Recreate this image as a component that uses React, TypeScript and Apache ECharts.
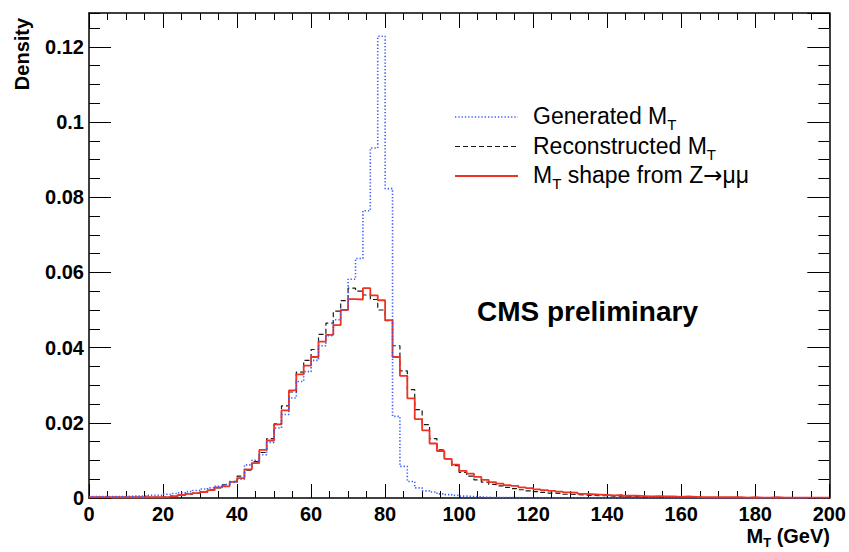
import React, { useEffect, useRef } from "react";
import * as echarts from "echarts";

// ---- data (bin width 2 GeV, 100 bins from 0 to 200 GeV) ----
const BIN_WIDTH = 2;
const X_MIN = 0;
const X_MAX = 200;
const Y_MAX = 0.129;

const xTickValues = [0, 20, 40, 60, 80, 100, 120, 140, 160, 180, 200];
const yTickLabels = ["0", "0.02", "0.04", "0.06", "0.08", "0.1", "0.12"];

const generatedMT = [
  0.0004, 0.0004, 0.0004, 0.0004, 0.0004, 0.0005, 0.0005, 0.0005, 0.0007, 0.0007,
  0.0010, 0.0012, 0.0014, 0.0017, 0.0020, 0.0024, 0.0027, 0.0031, 0.0036, 0.0042,
  0.0050, 0.0088, 0.0100, 0.0115, 0.0148, 0.0186, 0.0222, 0.0266, 0.0310, 0.0336,
  0.0366, 0.0405, 0.0432, 0.0474, 0.0500, 0.0582, 0.0637, 0.0764, 0.0931, 0.1228,
  0.0823, 0.0217, 0.0084, 0.0044, 0.0027, 0.0019, 0.0016, 0.0011, 0.0009, 0.0007,
  0.0005, 0.0004, 0.0003, 0.0002, 0.0001, 0.0001, 0.0001, 0.0001, 0.0000, 0.0000,
  0.0000, 0.0000, 0.0000, 0.0000, 0.0000, 0.0000, 0.0000, 0.0000, 0.0000, 0.0000,
  0.0000, 0.0000, 0.0000, 0.0000, 0.0000, 0.0000, 0.0000, 0.0000, 0.0000, 0.0000,
  0.0000, 0.0000, 0.0000, 0.0000, 0.0000, 0.0000, 0.0000, 0.0000, 0.0000, 0.0000,
  0.0000, 0.0000, 0.0000, 0.0000, 0.0000, 0.0000, 0.0000, 0.0000, 0.0000, 0.0000,
];

const reconstructedMT = [
  0.0002, 0.0002, 0.0002, 0.0002, 0.0002, 0.0002, 0.0002, 0.0002, 0.0002, 0.0002,
  0.0003, 0.0005, 0.0007, 0.0010, 0.0013, 0.0016, 0.0022, 0.0027, 0.0035, 0.0044,
  0.0058, 0.0074, 0.0097, 0.0121, 0.0158, 0.0197, 0.0245, 0.0282, 0.0335, 0.0366,
  0.0395, 0.0435, 0.0465, 0.0497, 0.0525, 0.0558, 0.0550, 0.0540, 0.0528, 0.0500,
  0.0472, 0.0405, 0.0338, 0.0288, 0.0235, 0.0195, 0.0158, 0.0128, 0.0104, 0.0086,
  0.0068, 0.0058, 0.0048, 0.0042, 0.0036, 0.0032, 0.0028, 0.0025, 0.0022, 0.0019,
  0.0017, 0.0015, 0.0013, 0.0012, 0.0010, 0.0009, 0.0008, 0.0007, 0.0006, 0.0006,
  0.0005, 0.0005, 0.0004, 0.0004, 0.0003, 0.0003, 0.0003, 0.0002, 0.0002, 0.0002,
  0.0002, 0.0002, 0.0001, 0.0001, 0.0001, 0.0001, 0.0001, 0.0001, 0.0001, 0.0001,
  0.0001, 0.0001, 0.0001, 0.0001, 0.0001, 0.0001, 0.0001, 0.0001, 0.0001, 0.0001,
];

const zmumuShape = [
  0.0002, 0.0002, 0.0002, 0.0002, 0.0002, 0.0002, 0.0002, 0.0002, 0.0002, 0.0002,
  0.0003, 0.0005, 0.0008, 0.0011, 0.0013, 0.0016, 0.0021, 0.0028, 0.0031, 0.0043,
  0.0053, 0.0076, 0.0093, 0.0128, 0.0153, 0.0196, 0.0233, 0.0286, 0.0329, 0.0352,
  0.0375, 0.0416, 0.0434, 0.0460, 0.0500, 0.0529, 0.0528, 0.0558, 0.0539, 0.0526,
  0.0473, 0.0375, 0.0325, 0.0265, 0.0210, 0.0180, 0.0145, 0.0125, 0.0104, 0.0089,
  0.0072, 0.0065, 0.0056, 0.0048, 0.0042, 0.0038, 0.0034, 0.0032, 0.0028, 0.0026,
  0.0023, 0.0021, 0.0019, 0.0017, 0.0015, 0.0014, 0.0011, 0.0010, 0.0009, 0.0008,
  0.0007, 0.0008, 0.0006, 0.0006, 0.0005, 0.0004, 0.0005, 0.0004, 0.0004, 0.0003,
  0.0004, 0.0003, 0.0002, 0.0002, 0.0002, 0.0002, 0.0002, 0.0002, 0.0001, 0.0002,
  0.0001, 0.0001, 0.0002, 0.0001, 0.0001, 0.0001, 0.0001, 0.0001, 0.0001, 0.0001,
];

const seriesNames = ["Generated M_T", "Reconstructed M_T", "M_T shape from Z→μμ"];
const legendRich = [
  "{n|Generated M}{s|T}",
  "{n|Reconstructed M}{s|T}",
  "{n|M}{s|T}{n| shape from Z}{a|→}{n|μμ}",
];

const FONT = '"Liberation Sans", Arial, Helvetica, sans-serif';
const BLUE = "#3b5bff";
const BLACK = "#1a1a1a";
const RED = "#ee3322";

const toSteps = (values: number[]) => {
  const pts: number[][] = values.map((v, i) => [X_MIN + i * BIN_WIDTH, v]);
  pts.push([X_MIN + values.length * BIN_WIDTH, values[values.length - 1]]);
  return pts;
};

const yLabelFormatter = (v: number) => {
  const r = v / 0.02;
  if (Math.abs(r - Math.round(r)) > 1e-6) return "";
  const s = String(+v.toFixed(2));
  return yTickLabels.includes(s) ? s : "";
};

export default function App() {
  const ref = useRef<HTMLDivElement>(null);

  useEffect(() => {
    if (!ref.current) return;
    const chart = echarts.init(ref.current, null, { renderer: "svg" });

    const axisLine = { show: true, onZero: false, lineStyle: { color: "#000", width: 1.5 } };
    const hiddenLine = { show: false, onZero: false };
    const noSplit = { show: false };
    const tickStyle = { color: "#000", width: 1 };

    const xBase = {
      type: "value",
      min: X_MIN,
      max: X_MAX,
      interval: 20,
      splitLine: noSplit,
      minorSplitLine: noSplit,
      axisLine,
    };

    const yBase = {
      type: "value",
      min: 0,
      max: Y_MAX,
      splitLine: noSplit,
      minorSplitLine: noSplit,
    };

    const legendRows = [117, 146.5, 176];
    const legendStyles = [
      { stroke: BLUE, lineWidth: 1.6, lineDash: [1.3, 2] },
      { stroke: BLACK, lineWidth: 1.2, lineDash: [5, 3] },
      { stroke: RED, lineWidth: 1.8 },
    ];

    const graphic: any[] = [];
    legendRows.forEach((y, i) => {
      graphic.push({
        type: "line",
        shape: { x1: 455, y1: y, x2: 518, y2: y },
        style: { ...legendStyles[i], fill: null },
      });
      graphic.push({
        type: "text",
        x: 533,
        y: y - 1,
        style: {
          text: legendRich[i],
          align: "left",
          textAlign: "left",
          verticalAlign: "middle",
          textVerticalAlign: "middle",
          rich: {
            n: { fontSize: 23, fontFamily: FONT, fill: "#000", lineHeight: 32 },
            s: { fontSize: 15, fontFamily: FONT, fill: "#000", lineHeight: 15, verticalAlign: "bottom" },
            a: { fontSize: 23, fontFamily: '"DejaVu Sans", sans-serif', fill: "#000", lineHeight: 32 },
          },
        },
      });
    });

    graphic.push({
      type: "text",
      x: 477,
      y: 311,
      style: {
        text: "CMS preliminary",
        font: `bold 28px ${FONT}`,
        fill: "#000",
        align: "left",
        textAlign: "left",
        verticalAlign: "middle",
        textVerticalAlign: "middle",
      },
    });

    graphic.push({
      type: "text",
      x: 22,
      y: 54,
      rotation: Math.PI / 2,
      style: {
        text: "Density",
        font: `bold 20px ${FONT}`,
        fill: "#000",
        align: "center",
        textAlign: "center",
        verticalAlign: "middle",
        textVerticalAlign: "middle",
      },
    });

    graphic.push({
      type: "text",
      x: 830,
      y: 536,
      style: {
        text: "{b|M}{bs|T}{b| (GeV)}",
        align: "right",
        textAlign: "right",
        verticalAlign: "middle",
        textVerticalAlign: "middle",
        rich: {
          b: { fontSize: 20, fontWeight: "bold", fontFamily: FONT, fill: "#000", lineHeight: 26 },
          bs: { fontSize: 13, fontWeight: "bold", fontFamily: FONT, fill: "#000", lineHeight: 13, verticalAlign: "bottom" },
        },
      },
    });

    chart.setOption({
      animation: false,
      backgroundColor: "#fff",
      grid: { left: 89, right: 17, top: 13, bottom: 54, containLabel: false },
      xAxis: [
        {
          ...xBase,
          position: "bottom",
          axisTick: { show: true, inside: true, length: 14, lineStyle: tickStyle },
          minorTick: { show: true, splitNumber: 4, length: 7, lineStyle: tickStyle },
          axisLabel: {
            show: true,
            margin: 6,
            color: "#000",
            fontSize: 20,
            fontWeight: "bold",
            fontFamily: FONT,
            formatter: (v: number) => (xTickValues.includes(v) ? String(v) : ""),
          },
        },
        {
          ...xBase,
          position: "top",
          axisTick: { show: true, inside: true, length: 15, lineStyle: tickStyle },
          minorTick: { show: true, splitNumber: 4, length: 7, lineStyle: tickStyle },
          axisLabel: { show: false },
        },
      ],
      yAxis: [
        {
          ...yBase,
          position: "left",
          interval: 0.02,
          axisLine,
          axisTick: { show: true, inside: true, length: 22, lineStyle: tickStyle },
          axisLabel: {
            show: true,
            margin: 5,
            color: "#000",
            fontSize: 20,
            fontWeight: "bold",
            fontFamily: FONT,
            showMaxLabel: false,
            formatter: yLabelFormatter,
          },
        },
        {
          ...yBase,
          position: "left",
          interval: 0.005,
          axisLine: hiddenLine,
          axisTick: { show: true, inside: true, length: 11, lineStyle: tickStyle },
          axisLabel: { show: false },
        },
        {
          ...yBase,
          position: "right",
          interval: 0.02,
          axisLine,
          axisTick: { show: true, inside: true, length: 22, lineStyle: tickStyle },
          axisLabel: { show: false },
        },
        {
          ...yBase,
          position: "right",
          interval: 0.005,
          axisLine: hiddenLine,
          axisTick: { show: true, inside: true, length: 11, lineStyle: tickStyle },
          axisLabel: { show: false },
        },
      ],
      series: [
        {
          name: seriesNames[1],
          type: "line",
          step: "end",
          xAxisIndex: 0,
          yAxisIndex: 0,
          showSymbol: false,
          symbol: "none",
          data: toSteps(reconstructedMT),
          lineStyle: { color: BLACK, width: 1.2, type: [5, 3] },
          z: 2,
        },
        {
          name: seriesNames[2],
          type: "line",
          step: "end",
          xAxisIndex: 0,
          yAxisIndex: 0,
          showSymbol: false,
          symbol: "none",
          data: toSteps(zmumuShape),
          lineStyle: { color: RED, width: 1.8, type: "solid" },
          z: 3,
        },
        {
          name: seriesNames[0],
          type: "line",
          step: "end",
          xAxisIndex: 0,
          yAxisIndex: 0,
          showSymbol: false,
          symbol: "none",
          data: toSteps(generatedMT),
          lineStyle: { color: BLUE, width: 1.6, type: [1.3, 2] },
          z: 4,
        },
      ],
      graphic,
    });

    return () => chart.dispose();
  }, []);

  return (
    <div
      ref={ref}
      style={{ position: "absolute", left: 0, top: 0, width: 849, height: 552, background: "#fff" }}
    />
  );
}
